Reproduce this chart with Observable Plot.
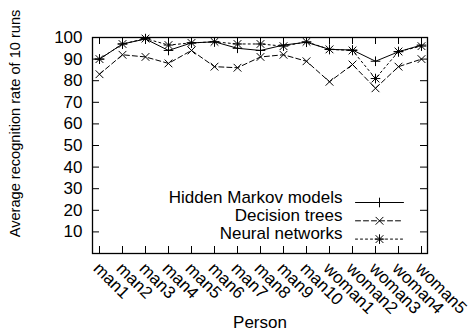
<!DOCTYPE html>
<html>
<head>
<meta charset="utf-8">
<script src="https://cdn.jsdelivr.net/npm/d3@7"></script>
<script src="https://cdn.jsdelivr.net/npm/@observablehq/plot@0.6"></script>
<style>
  html, body { margin: 0; padding: 0; background: #fff; }
</style>
</head>
<body>
<div id="chart"></div>
<script>
const people = ["man1","man2","man3","man4","man5","man6","man7","man8","man9","man10","woman1","woman2","woman3","woman4","woman5"];
const hmm = [90, 97, 99.3, 94, 97.5, 98, 95, 94, 96.5, 97.8, 94.5, 94.2, 89, 93.4, 96.5];
const dt  = [83, 92, 91, 88, 94, 86.5, 86, 91, 92, 89, 79.5, 87.5, 76.5, 86.5, 90];
const nn  = [90, 97, 99.5, 96.5, 97.5, 98, 97, 97, 96, 98, 94.5, 94, 81, 93.5, 96];
const yTicks = [10, 20, 30, 40, 50, 60, 70, 80, 90, 100];
const seriesNames = ["Hidden Markov models", "Decision trees", "Neural networks"];
const seriesDash = [null, "5,3", "2,3"];
const seriesValues = [hmm, dt, nn];
const seriesSymbols = [["plus"], ["times"], ["plus", "times"]];

const font = "'Liberation Sans', Arial, Helvetica, sans-serif";
const lineShape = { draw(context, l) { context.moveTo(0, 0); context.lineTo(0, -l); } };

const marks = [];
// inward ticks
marks.push(Plot.tickX(people, {x: d => d, insetTop: 209, stroke: "black"}));
marks.push(Plot.tickX(people, {x: d => d, insetBottom: 209, stroke: "black"}));
marks.push(Plot.tickY(yTicks, {y: d => d, insetRight: 328, stroke: "black"}));
marks.push(Plot.tickY(yTicks, {y: d => d, insetLeft: 328, stroke: "black"}));

seriesValues.forEach((vals, i) => {
  const data = people.map((p, j) => ({p, v: vals[j]}));
  marks.push(Plot.line(data, {x: "p", y: "v", stroke: "black", strokeWidth: 1, strokeDasharray: seriesDash[i]}));
  seriesSymbols[i].forEach(sym => {
    marks.push(Plot.dot(data, {x: "p", y: "v", symbol: sym, r: sym === "plus" ? 3.2 : 3.6, stroke: "black", strokeWidth: 1}));
  });
  // legend
  const dy = -51 + 18.3 * i;
  marks.push(Plot.text([seriesNames[i]], {frameAnchor: "bottom-right", dx: -85, dy, text: d => d, textAnchor: "end", fontSize: 17, fill: "black"}));
  marks.push(Plot.vector([0], {frameAnchor: "bottom-right", dx: -48, dy, length: 48, rotate: 90, anchor: "middle", shape: lineShape, stroke: "black", strokeWidth: 1, strokeDasharray: seriesDash[i]}));
  seriesSymbols[i].forEach(sym => {
    marks.push(Plot.dot([0], {frameAnchor: "bottom-right", dx: -48, dy, symbol: sym, r: sym === "plus" ? 3.2 : 3.6, stroke: "black", strokeWidth: 1}));
  });
});

// x tick labels rotated
marks.push(Plot.text(people, {x: d => d, frameAnchor: "bottom", text: d => d, rotate: 45, textAnchor: "start", lineAnchor: "bottom", dx: -7, dy: 16, fontSize: 17, fill: "black"}));
// y axis labels
marks.push(Plot.axisY({ticks: yTicks, tickSize: 0, tickPadding: 10, fontSize: 17, label: null}));
// axis titles
marks.push(Plot.text(["Average recognition rate of 10 runs"], {frameAnchor: "left", dx: -77, dy: -22, rotate: -90, textAnchor: "middle", lineAnchor: "middle", text: d => d, fontSize: 14.6, fill: "black"}));
marks.push(Plot.text(["Person"], {frameAnchor: "bottom", dy: 74, text: d => d, fontSize: 17, fill: "black"}));
marks.push(Plot.frame({stroke: "black", strokeWidth: 1.3}));

const chart = Plot.plot({
  width: 475,
  height: 335,
  marginLeft: 92,
  marginRight: 48,
  marginTop: 37,
  marginBottom: 82,
  style: {fontFamily: font, fontSize: "17px", background: "white", color: "black", overflow: "visible"},
  x: {type: "point", domain: people, padding: 0, axis: null},
  y: {domain: [0, 100], axis: null},
  marks
});
document.getElementById("chart").appendChild(chart);
</script>
</body>
</html>
